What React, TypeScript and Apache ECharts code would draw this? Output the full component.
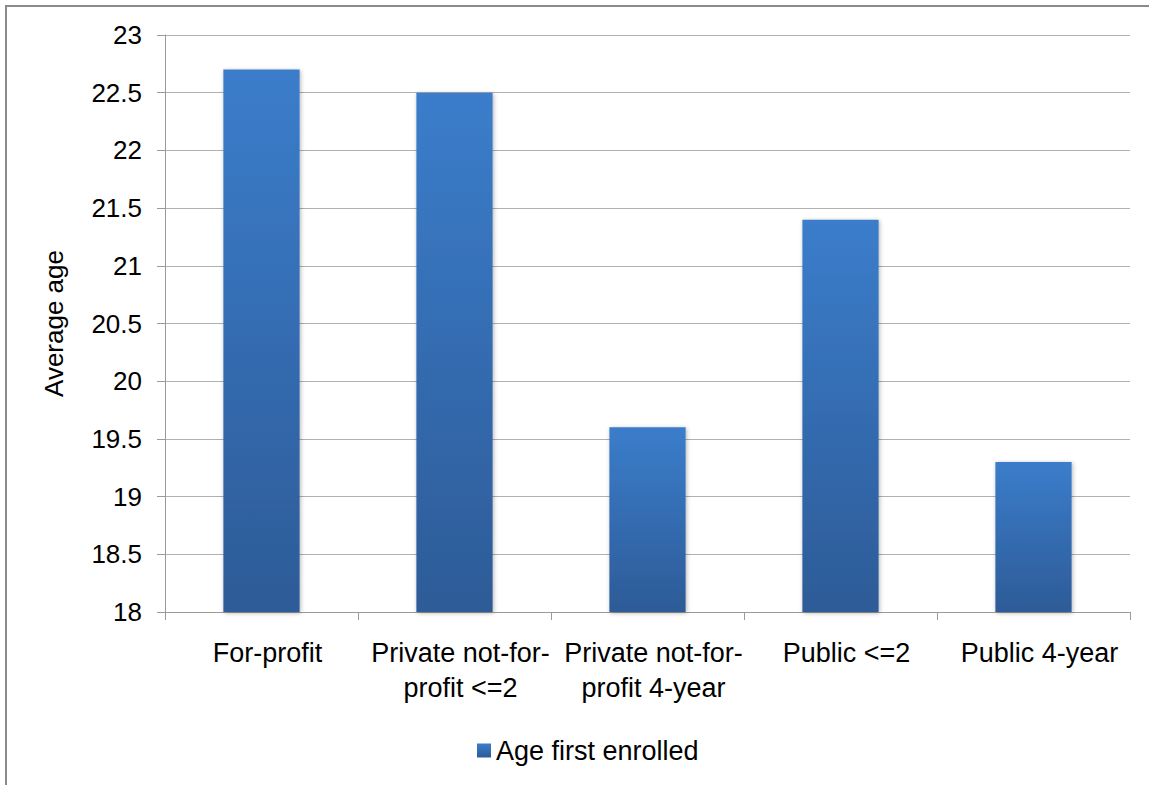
import React, { useEffect, useRef } from "react";
import * as echarts from "echarts";

// Average age at first enrollment, by institution type
const categories = [
  "For-profit",
  "Private not-for-\nprofit <=2",
  "Private not-for-\nprofit 4-year",
  "Public <=2",
  "Public 4-year",
];
const ageFirstEnrolled = [22.7, 22.5, 19.6, 21.4, 19.3];
const seriesName = "Age first enrolled";
const yAxisName = "Average age";
const yMin = 18;
const yMax = 23;
const yStep = 0.5;

const FONT = "'Liberation Sans', Arial, sans-serif";

export default function App() {
  const ref = useRef<HTMLDivElement>(null);

  useEffect(() => {
    if (!ref.current) return;
    const chart = echarts.init(ref.current, undefined, { renderer: "svg" });
    chart.setOption({
      animation: false,
      backgroundColor: "#ffffff",
      textStyle: { fontFamily: FONT, color: "#000" },
      graphic: [
        {
          type: "rect",
          shape: { x: 6, y: 6, width: 1160, height: 800 },
          style: { fill: "none", stroke: "#8a8a8a", lineWidth: 2 },
          silent: true,
          z: 100,
        },
      ],
      grid: { left: 165, top: 35, right: 19, bottom: 173 },
      legend: {
        data: [seriesName],
        bottom: 16,
        left: 472,
        icon: "rect",
        itemWidth: 14,
        itemHeight: 14,
        textStyle: { fontSize: 27, fontFamily: FONT, color: "#000" },
      },
      xAxis: {
        type: "category",
        data: categories,
        axisLine: { show: true, lineStyle: { color: "#9a9a9a", width: 1 } },
        axisTick: { show: true, length: 8, lineStyle: { color: "#9a9a9a" } },
        axisLabel: {
          fontSize: 27,
          lineHeight: 35,
          margin: 23,
          padding: [0, 0, 0, 12],
          color: "#000",
          fontFamily: FONT,
          interval: 0,
        },
      },
      yAxis: {
        type: "value",
        min: yMin,
        max: yMax,
        interval: yStep,
        name: yAxisName,
        nameLocation: "middle",
        nameGap: 98,
        nameTextStyle: { fontSize: 26, fontFamily: FONT, color: "#000" },
        axisLine: { show: true, lineStyle: { color: "#9a9a9a", width: 1 } },
        axisTick: { show: true, length: 8, lineStyle: { color: "#9a9a9a" } },
        axisLabel: {
          fontSize: 26,
          margin: 23,
          color: "#000",
          fontFamily: FONT,
        },
        splitLine: { show: true, lineStyle: { color: "#b0b0b0", width: 1 } },
      },
      series: [
        {
          name: seriesName,
          type: "bar",
          data: ageFirstEnrolled,
          barWidth: "39.5%",
          itemStyle: {
            color: new echarts.graphic.LinearGradient(0, 0, 0, 1, [
              { offset: 0, color: "#3b7dcb" },
              { offset: 1, color: "#2d5b97" },
            ]),
            shadowColor: "rgba(0,0,0,0.3)",
            shadowBlur: 4,
            shadowOffsetX: 1,
            shadowOffsetY: 1,
          },
        },
      ],
    });
    return () => chart.dispose();
  }, []);

  return (
    <div
      ref={ref}
      style={{ position: "fixed", left: 0, top: 0, width: 1149, height: 785 }}
    />
  );
}
